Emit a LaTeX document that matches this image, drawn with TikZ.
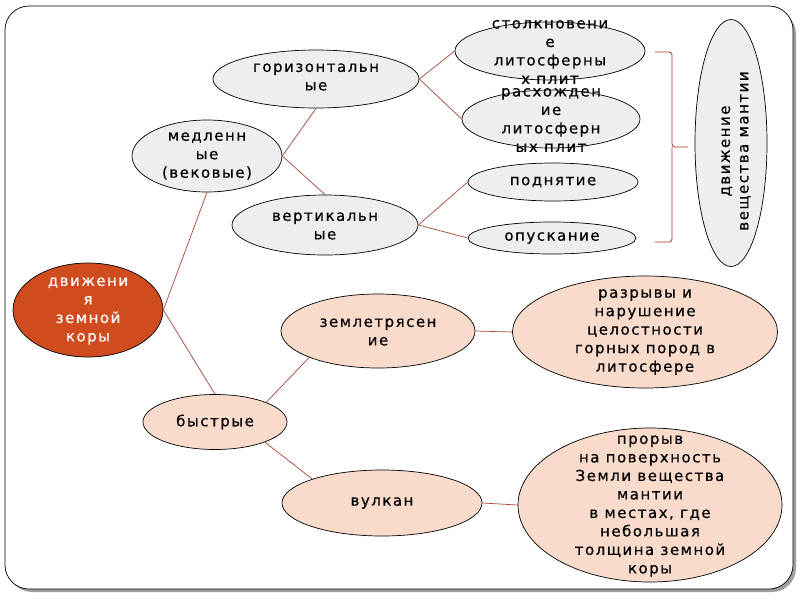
\documentclass[tikz,border=0pt]{standalone}
\usepackage{fontspec}
\setmainfont{DejaVu Sans}[LetterSpace=10,FakeBold=0.4]
\usetikzlibrary{shapes.geometric}
\definecolor{lnk}{RGB}{165,70,55}
\definecolor{brk}{RGB}{170,50,40}
\definecolor{ellgray}{RGB}{238,238,238}
\definecolor{ellpink}{RGB}{249,219,204}
\definecolor{ellorange}{RGB}{208,76,30}
\begin{document}
\begin{tikzpicture}[x=1pt,y=-1pt,
  ell/.style={ellipse, draw=black, line width=0.7pt, inner sep=0pt},
  grayell/.style={ell, fill=ellgray},
  pinkell/.style={ell, fill=ellpink},
  txt/.style={align=center, inner sep=0pt, font=\fontsize{15}{18.5}\selectfont},
  link/.style={draw=lnk, line width=0.7pt}]
\useasboundingbox (0,0) rectangle (800,600);
\fill[white] (0,0) rectangle (800,600);
% frame
\fill[gray!75, rounded corners=24pt] (8,10) rectangle (796,592);
\draw[black, fill=white, line width=0.7pt, rounded corners=24pt] (5,6) rectangle (793,589);

% nodes
\node[ell, fill=ellorange, minimum width=150, minimum height=94] (dv) at (88,310) {};
\node[txt, text=white] (dvt) at (88,311) {движени\\я\\земной\\коры};

\node[grayell, minimum width=150, minimum height=72] (med) at (207,156) {};
\node[txt] (medt) at (207,156) {медленн\\ые\\(вековые)};

\node[grayell, minimum width=206, minimum height=58] (gor) at (316,79) {};
\node[txt] (gort) at (316,77) {горизонтальн\\ые};

\node[grayell, minimum width=186, minimum height=60] (vert) at (325,225) {};
\node[txt] (vertt) at (325,226) {вертикальн\\ые};

\node[grayell, minimum width=190, minimum height=58] (stolk) at (550,51) {};
\node[txt] (stolkt) at (550,52) {столкновени\\е\\литосферны\\х плит};

\node[grayell, minimum width=178, minimum height=58] (rasx) at (551,119) {};
\node[txt] (rasxt) at (551,120) {расхожден\\ие\\литосферн\\ых плит};

\node[grayell, minimum width=170, minimum height=38] (podn) at (553,182) {};
\node[txt] (podnt) at (553,182) {поднятие};

\node[grayell, minimum width=168, minimum height=32] (opusk) at (552,238) {};
\node[txt] (opuskt) at (552,238) {опускание};

\node[grayell, minimum width=72, minimum height=247] (mant) at (731,143) {};
\node[txt, rotate=90] (mantt) at (736,151) {движение\\вещества мантии};

\node[pinkell, minimum width=144, minimum height=55] (fast) at (215,422) {};
\node[txt] (fastt) at (215,422) {быстрые};

\node[pinkell, minimum width=194, minimum height=74] (zem) at (378,331) {};
\node[txt] (zemt) at (378,332) {землетрясен\\ие};

\node[pinkell, minimum width=200, minimum height=66] (vulk) at (382,503) {};
\node[txt] (vulkt) at (382,503) {вулкан};

\node[pinkell, minimum width=265, minimum height=112] (razr) at (645,332) {};
\node[txt] (razrt) at (645,332) {разрывы и\\нарушение\\целостности\\горных пород в\\литосфере};

\node[pinkell, minimum width=264, minimum height=154] (proryv) at (650,505) {};
\node[txt] (proryvt) at (650,506) {прорыв\\на поверхность\\Земли вещества\\мантии\\в местах, где\\небольшая\\толщина земной\\коры};

% connectors
\draw[link] (dv.east) -- (med.south);
\draw[link] (dv.east) -- (fast.north);
\draw[link] (med.east) -- (gor.south);
\draw[link] (med.east) -- (vert.north);
\draw[link] (gor.east) -- (stolk.west);
\draw[link] (gor.east) -- (rasx.west);
\draw[link] (vert.east) -- (podn.west);
\draw[link] (vert.east) -- (opusk.west);
\draw[link] (fast.21) -- (zem.201.7);
\draw[link] (fast.338) -- (vulk.161);
\draw[link] (zem.east) -- (razr.west);
\draw[link] (vulk.east) -- (proryv.west);

% bracket
\draw[brk, line width=0.8pt, rounded corners=3pt] (655,52) -| (672,147) -- (688,147);
\draw[brk, line width=0.8pt, rounded corners=3pt] (655,242) -| (672,147);
\end{tikzpicture}
\end{document}
